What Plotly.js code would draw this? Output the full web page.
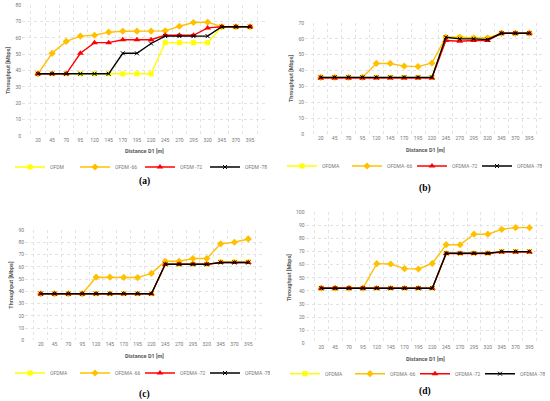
<!DOCTYPE html>
<html><head><meta charset="utf-8">
<script src="https://cdn.plot.ly/plotly-3.0.1.min.js"></script>
<style>body{margin:0;padding:0;background:#fff}#c{width:550px;height:401px}</style>
</head><body><div id="c"></div>
<script>
const distances = ['20','45','70','95','120','145','170','195','220','245','270','295','320','345','370','395'];

const namesA = ['OFDM','OFDM -66','OFDM -72','OFDM -78'];
const namesB = ['OFDMA','OFDMA -66','OFDMA -72','OFDMA -78'];

// Panel (a)
const a_base = [38,38,38,38,38,38,38,38,38,57,57,57,57,66.7,66.7,66.7];
const a_66   = [38,50.5,57.8,61,61.5,63.4,64,64,64,64.2,67,69.3,69.5,66.7,66.7,66.7];
const a_72   = [38,38,38,50.5,57,57,58.8,58.8,58.8,61.5,61.5,61.5,66,66.7,66.7,66.7];
const a_78   = [38,38,38,38,38,38,50.5,50.5,56.5,61,61,61,61,66.7,66.7,66.7];

// Panel (b)
const b_base = [35.7,35.7,35.7,35.7,35.7,35.7,35.7,35.7,35.7,61,61,60.5,60.5,63.5,63.5,63.5];
const b_66   = [35.7,35.7,35.7,35.7,44.5,44.5,42.8,42.5,44.8,61,61,60.5,60.5,63.5,63.5,63.5];
const b_72   = [35.3,35.3,35.3,35.3,35.3,35.3,35.3,35.3,35.3,59,58.5,59,59,63.5,63.5,63.5];
const b_78   = [35.7,35.7,35.7,35.7,35.7,35.7,35.7,35.7,35.7,61,60,60,59.5,63.5,63.5,63.5];

// Panel (c)
const c_base = [38,38,38,38,38,38,38,38,38,62,62,62,62,64,64,64];
const c_66   = [38,38,38,38,51.5,51.5,51.3,51.2,54.6,64.5,64.5,66.7,66.7,78.7,80,82.7];
const c_72   = [38,38,38,38,38,38,38,38,38,62,62,62,62,63.5,63.5,63.5];
const c_78   = [38,38,38,38,38,38,38,38,38,62,62,62,62,63.5,63.5,63.5];

// Panel (d)
const d_base = [42,42,42,42,42,42,42,42,42,68.7,68.7,68.7,68.7,70,70,70];
const d_66   = [42,42,42,42,60.8,60.5,57,56.7,61,75.3,75.2,83.3,83.3,87,88.3,88.3];
const d_72   = [42,42,42,42,42,42,42,42,42,68.5,68.5,68.5,68.5,69.7,69.7,69.7];
const d_78   = [42,42,42,42,42,42,42,42,42,68.7,68.7,68.7,68.7,70,70,70];

const yTitle = 'Throughput [Mbps]';
const xTitle = 'Distance D1 [m]';
const panelLabels = ['(a)','(b)','(c)','(d)'];

const styles = [
  {color:'#FFFF00', symbol:'square', size:5},
  {color:'#FFC000', symbol:'diamond', size:5.5},
  {color:'#FF0000', symbol:'triangle-up', size:6},
  {color:'#000000', symbol:'x-thin-open', size:4}
];

const panels = [
  {series:[a_base,a_66,a_72,a_78], names:namesA, x:[22,266], y:[5,136], max:80},
  {series:[b_base,b_66,b_72,b_78], names:namesB, x:[305,545], y:[23,134], max:70},
  {series:[c_base,c_66,c_72,c_78], names:namesB, x:[25,264], y:[230,340.3], max:90},
  {series:[d_base,d_66,d_72,d_78], names:namesB, x:[305.5,545.2], y:[212.3,343.3], max:100}
];
const legendX = [140, 412, 140, 415];
const legendY = [167, 166, 373, 373.7];
const titleY = [151, 150, 356, 359];
const labelY = [181, 188, 394, 391];

const W = 550, H = 401;
const traces = [];
const layout = {
  width: W, height: H,
  margin:{l:0,r:0,t:0,b:0,autoexpand:false},
  paper_bgcolor:'#fff', plot_bgcolor:'#fff',
  showlegend:true,
  font:{family:'Roboto, Arial, sans-serif', color:'#595959'},
  annotations:[]
};

panels.forEach((p, i) => {
  const n = i === 0 ? '' : String(i + 1);
  const xa = 'x' + n, ya = 'y' + n;
  const lg = i === 0 ? 'legend' : 'legend' + (i + 1);
  p.series.forEach((s, k) => {
    const st = styles[k];
    traces.push({
      type:'scatter', mode:'lines+markers',
      x: distances, y: s, name: p.names[k],
      xaxis: xa, yaxis: ya, legend: lg,
      line:{color: st.color, width: 1.4},
      marker:{symbol: st.symbol, size: st.size, color: st.color,
              line:{color: k === 3 ? '#555' : st.color, width: k === 3 ? 1 : 0}}
    });
  });
  layout['xaxis' + n] = {
    domain:[p.x[0]/W, p.x[1]/W], anchor: ya,
    type:'category', tickson:'boundaries', tickangle:0,
    showgrid:true, gridcolor:'#e3e3e3', griddash:'dot', gridwidth:1,
    ticks:'', showline:false, zeroline:false,
    tickfont:{size:5, color:'#777'}, ticklen:0,
    fixedrange:true
  };
  layout['yaxis' + n] = {
    domain:[(H - p.y[1])/H, (H - p.y[0])/H], anchor: xa,
    range:[0, p.max], dtick:10,
    showgrid:true, gridcolor:'#e3e3e3', griddash:'dot', gridwidth:1,
    zeroline:false, showline:false, ticks:'',
    tickfont:{size:5, color:'#777'},
    title:{text: yTitle, font:{size:5.5, color:'#595959', weight:'bold'}, standoff:4},
    fixedrange:true
  };
  const cx = (p.x[0] + p.x[1]) / 2 / W;
  layout[lg] = {
    orientation:'h', x: legendX[i] / W, xanchor:'center', y: (H - legendY[i]) / H, yanchor:'middle',
    font:{size:5, color:'#777'}, bgcolor:'rgba(0,0,0,0)',
    itemwidth:30, entrywidth:20, entrywidthmode:'pixels', tracegroupgap:0, itemclick:false
  };
  layout.annotations.push({
    text: xTitle, xref:'paper', yref:'paper', x: cx, y: (H - titleY[i]) / H,
    showarrow:false, xanchor:'center', yanchor:'middle',
    font:{size:5.5, color:'#595959', weight:'bold'}
  });
  layout.annotations.push({
    text: panelLabels[i], xref:'paper', yref:'paper', x: cx, y: (H - labelY[i]) / H,
    showarrow:false, xanchor:'center', yanchor:'middle',
    font:{size:9.5, color:'#000', family:'Liberation Serif, DejaVu Serif, serif', weight:'bold'}
  });
});

Plotly.newPlot('c', traces, layout, {displayModeBar:false, staticPlot:true});
</script></body></html>
